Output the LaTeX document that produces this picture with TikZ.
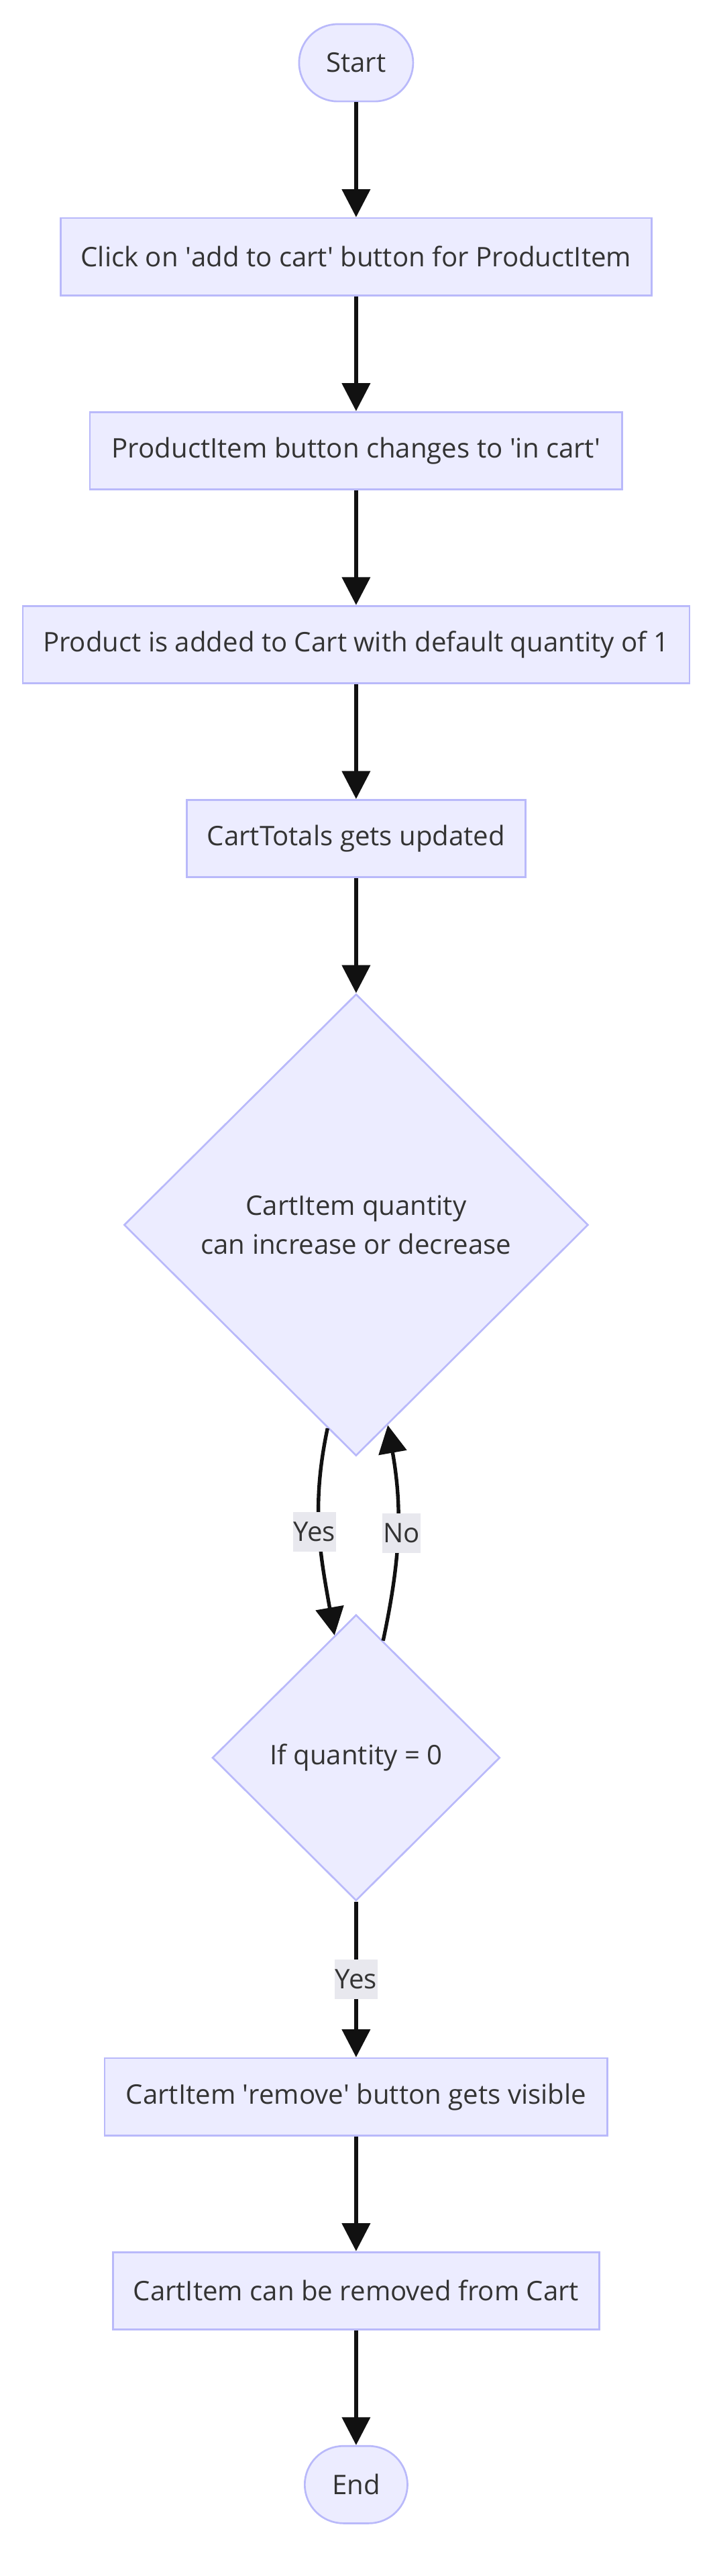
\documentclass[tikz,border=0pt]{standalone}
\usepackage{fontspec}
\setmainfont{Open Sans}
\usetikzlibrary{shapes.geometric,arrows.meta,positioning}
\definecolor{boxfill}{RGB}{236,236,255}
\definecolor{boxline}{RGB}{185,185,250}
\definecolor{txt}{RGB}{51,51,51}
\definecolor{lblfill}{RGB}{232,232,238}
\definecolor{edge}{RGB}{17,17,17}
\begin{document}
\begin{tikzpicture}[x=1pt,y=1pt,
  font=\fontsize{16.4}{24}\selectfont, text=txt,
  box/.style={draw=boxline,fill=boxfill,line width=1.1pt,minimum height=47pt,inner xsep=4pt,inner ysep=0pt},
  term/.style={box,rounded corners=23.5pt},
  dec/.style={draw=boxline,fill=boxfill,line width=1.1pt,diamond,aspect=1,inner sep=0pt,align=center},
  lbl/.style={fill=lblfill,inner xsep=0.5pt,inner ysep=0pt,minimum height=24pt,text=txt},
  flow/.style={draw=edge,line width=2.2pt,-{Triangle[length=17pt,width=17pt]}}]

\useasboundingbox (0,0) rectangle (433.5,-1567.4);

\path (216.7,-38.2) node[term,minimum width=69.4pt] (S) {Start}
++(270:118) node[box,minimum width=359.6pt] (B-1) {Click on \textquotesingle add to cart\textquotesingle\ button for ProductItem}
++(270:118) node[box,minimum width=324pt] (B-2) {ProductItem button changes to \textquotesingle in cart\textquotesingle}
++(270:118) node[box,minimum width=405.7pt] (B-3) {Product is added to Cart with default quantity of 1}
++(270:118) node[box,minimum width=206pt] (B-4) {CartTotals gets updated}
++(270:235.1) node[dec,minimum width=282.5pt,minimum height=281pt] (D-1) {CartItem quantity\\can increase or decrease}
++(270:324.2) node[dec,minimum width=175pt,minimum height=174pt] (D-2) {If quantity = 0}
++(270:206.3) node[box,minimum width=306pt] (B-5) {CartItem \textquotesingle remove\textquotesingle\ button gets visible}
++(270:118) node[box,minimum width=296pt] (B-6) {CartItem can be removed from Cart}
++(270:118) node[term,minimum width=62.5pt] (E) {End}
;

\draw[flow] (S) -- (B-1);
\draw[flow] (B-1) -- (B-2);
\draw[flow] (B-2) -- (B-3);
\draw[flow] (B-3) -- (B-4);
\draw[flow] (B-4) -- (D-1);

\draw[flow] (D-1.262) to[out=258,in=100] node[lbl,xshift=-3pt] {Yes} (D-2.100);
\draw[flow] (D-2.77) to[out=78,in=280] node[lbl,xshift=2.5pt] {No} (D-1.279);

\draw[flow] (D-2) -- node[lbl] {Yes} (B-5);
\draw[flow] (B-5) -- (B-6);
\draw[flow] (B-6) -- (E);
\end{tikzpicture}
\end{document}
